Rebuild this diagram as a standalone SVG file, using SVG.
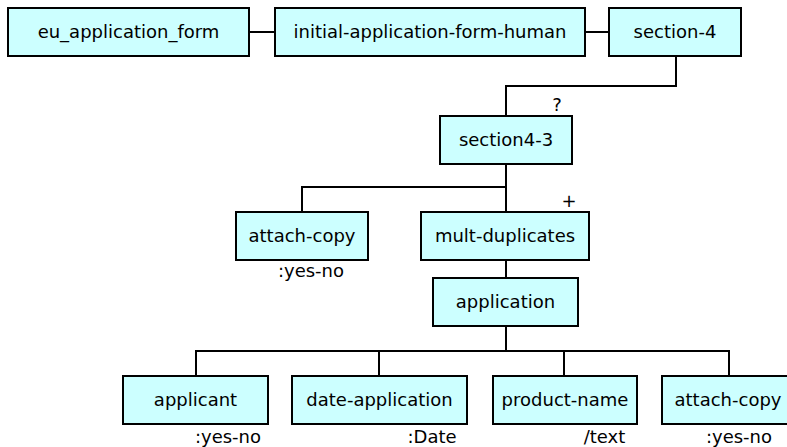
<svg xmlns="http://www.w3.org/2000/svg" width="787" height="447" viewBox="0 0 787 447">
<style>
.box{fill:#ccffff;stroke:#000;stroke-width:2}
.lbl{font-family:"DejaVu Sans",Verdana,sans-serif;font-size:18px;text-anchor:middle;fill:#000}
.sm{font-family:"DejaVu Sans",Verdana,sans-serif;font-size:18px;text-anchor:middle;fill:#000}
.con{fill:none;stroke:#000;stroke-width:2}
</style>
<rect width="787" height="447" fill="#fff"/>
<g id="connectors">
<path class="con" d="M249 32H275M585 32H609M676 56V86H506V116M506 164V187H302V212M506 187V212M506 260V278M506 326V351M196 376V351H729V376M379 351V376M564 351V376"/>
</g>
<g id="eu_application_form"><rect class="box" x="8" y="8" width="241" height="48"/><text class="lbl" x="128.5" y="38">eu_application_form</text></g>
<g id="initial-application-form-human"><rect class="box" x="275" y="8" width="310" height="48"/><text class="lbl" x="430" y="38">initial-application-form-human</text></g>
<g id="section-4"><rect class="box" x="609" y="8" width="132" height="48"/><text class="lbl" x="675" y="38">section-4</text></g>
<g id="section4-3"><rect class="box" x="440" y="116" width="132" height="48"/><text class="lbl" x="506" y="146">section4-3</text><text class="sm" x="557" y="111">?</text></g>
<g id="attach-copy-1"><rect class="box" x="236" y="212" width="132" height="48"/><text class="lbl" x="302" y="242">attach-copy</text><text class="sm" x="311" y="277">:yes-no</text></g>
<g id="mult-duplicates"><rect class="box" x="421" y="212" width="168" height="48"/><text class="lbl" x="505" y="242">mult-duplicates</text><text class="sm" x="569" y="207">+</text></g>
<g id="application"><rect class="box" x="433" y="278" width="145" height="48"/><text class="lbl" x="505.5" y="308">application</text></g>
<g id="applicant"><rect class="box" x="123" y="376" width="145" height="48"/><text class="lbl" x="195.5" y="406">applicant</text><text class="sm" x="228" y="443">:yes-no</text></g>
<g id="date-application"><rect class="box" x="292" y="376" width="175" height="48"/><text class="lbl" x="379.5" y="406">date-application</text><text class="sm" x="432" y="443">:Date</text></g>
<g id="product-name"><rect class="box" x="493" y="376" width="144" height="48"/><text class="lbl" x="565" y="406">product-name</text><text class="sm" x="604.5" y="443">/text</text></g>
<g id="attach-copy-2"><rect class="box" x="662" y="376" width="132" height="48"/><text class="lbl" x="728" y="406">attach-copy</text><text class="sm" x="739" y="443">:yes-no</text></g>
</svg>
